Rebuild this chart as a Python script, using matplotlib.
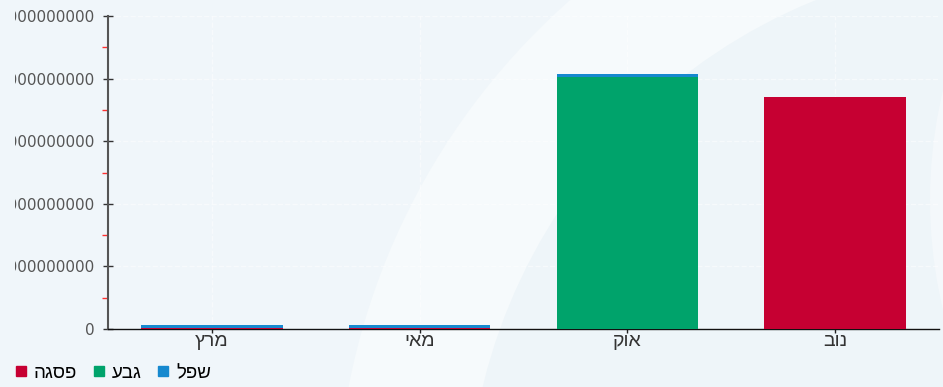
import numpy as np
import matplotlib
matplotlib.use('Agg')
import matplotlib.pyplot as plt
from matplotlib.patches import Circle
from matplotlib.lines import Line2D
from matplotlib.transforms import Bbox, TransformedBbox

# months (logical Hebrew order)
months = ['מרץ', 'מאי', 'אוק', 'נוב']
# stacked series, bottom to top
pisga = [0.015e9, 0.015e9, 0.0, 3.71e9]
gevaa = [0.0, 0.0, 4.02e9, 0.0]
shefel = [0.05e9, 0.05e9, 0.05e9, 0.0]
series_names = ['פסגה', 'גבע', 'שפל']
series_colors = ['#c60032', '#00a36b', '#1689cf']
y_ticks = [0, 1e9, 2e9, 3e9, 4e9, 5e9]


def rtl(s):
    # matplotlib has no bidi, so flip the Hebrew text for display
    return s[::-1]


W, H = 943, 387
fig = plt.figure(figsize=(W / 100, H / 100), dpi=100)
fig.patch.set_facecolor('#f0f6fa')


def px_circle(cx, cy, r, color, z):
    # circle given in pixel coords with y measured from the top
    c = Circle((cx / 100, (H - cy) / 100), r / 100, transform=fig.dpi_scale_trans,
               facecolor=color, edgecolor='none', zorder=z)
    fig.patches.append(c)


# soft background swooshes
px_circle(1026, 518, 690, '#f6fafc', -10)
px_circle(1026, 518, 559, '#eef5f9', -9)
px_circle(1400, 200, 470, '#f4f8fb', -8)

ax = fig.add_axes([108 / W, 58 / H, (939 - 108) / W, (329 - 16) / H])
ax.set_facecolor('none')

x = np.arange(len(months))
width = 0.68
bottom = np.zeros(len(months))
for vals, name, col in zip([pisga, gevaa, shefel], series_names, series_colors):
    ax.bar(x, vals, width, bottom=bottom, color=col, label=rtl(name), zorder=3)
    bottom += np.array(vals)

ax.set_xlim(-0.5, len(months) - 0.5)
ax.set_ylim(0, 5e9)

ax.set_yticks(y_ticks)
ax.set_yticklabels([f'{int(v)}' for v in y_ticks])
ax.set_yticks([v + 0.5e9 for v in y_ticks[:-1]], minor=True)
ax.tick_params(axis='y', which='major', direction='inout', length=7, width=1,
               color='#333333', labelsize=11, labelcolor='#555555', pad=6)
ax.tick_params(axis='y', which='minor', direction='out', length=4, width=1,
               color='#ff3030')

ax.set_xticks(x)
ax.set_xticklabels([rtl(m) for m in months], family=['Liberation Sans', 'DejaVu Sans'],
                   fontsize=14, color='#333333')
ax.tick_params(axis='x', direction='out', length=3, width=1, color='#222222', pad=0)

for s in ['top', 'right']:
    ax.spines[s].set_visible(False)
ax.spines['left'].set_color('#555555')
ax.spines['left'].set_linewidth(1.5)
ax.spines['bottom'].set_color('#111111')
ax.spines['bottom'].set_linewidth(1)

ax.grid(True, which='major', color='white', linestyle='--', linewidth=1, alpha=0.5, zorder=0)

# y tick labels are cut off at the left, like in the source chart
clip = TransformedBbox(Bbox([[15 / W, 0], [1, 1]]), fig.transFigure)
for lbl in ax.get_yticklabels():
    lbl.set_clip_box(clip)
    lbl.set_clip_on(True)

handles = [Line2D([], [], marker='s', linestyle='none', markersize=6.5,
                  markerfacecolor=c, markeredgecolor=c) for c in series_colors]
fig.legend(handles, [rtl(n) for n in series_names], loc='lower left',
           bbox_to_anchor=(-0.003, -0.03), ncol=3, frameon=False,
           handlelength=0.7, handletextpad=0.35, columnspacing=0.8,
           prop={'family': ['Liberation Sans', 'DejaVu Sans'], 'size': 13.5})

fig.savefig('out.png', dpi=100, facecolor=fig.get_facecolor())
